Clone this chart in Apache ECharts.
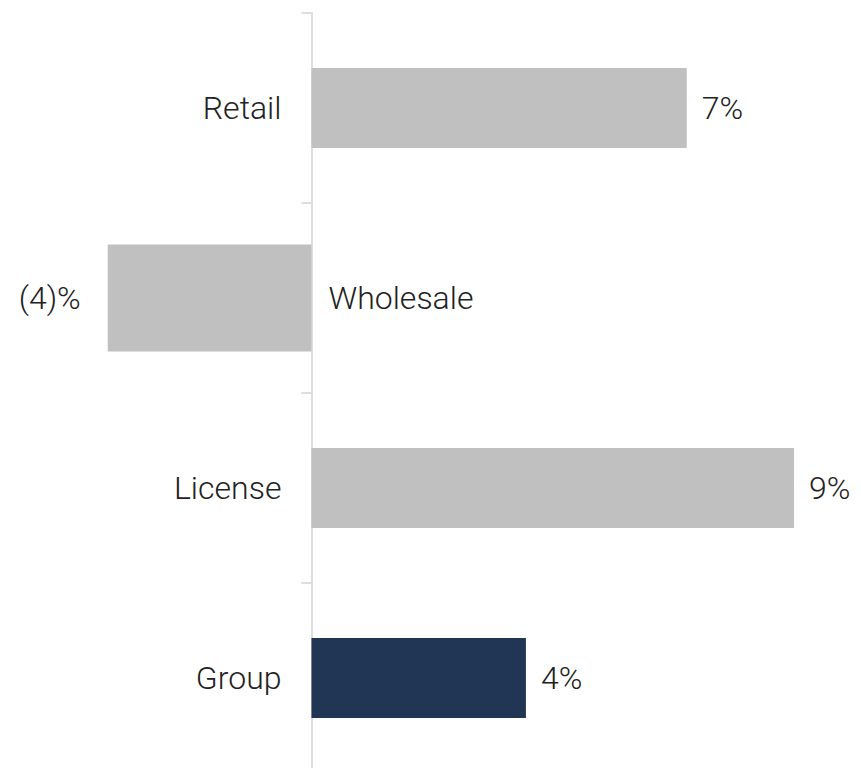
<!DOCTYPE html>
<html>
<head>
<meta charset="utf-8">
<script src="https://cdn.jsdelivr.net/npm/echarts@6/dist/echarts.min.js"></script>
<style>
  html, body { margin: 0; padding: 0; background: #fff; }
  #chart { width: 861px; height: 768px; }
</style>
</head>
<body>
<div id="chart"></div>
<script>
// data
var categories = ['Retail', 'Wholesale', 'License', 'Group'];
var growth = [7, -3.8, 9, 4];
var highlight = 'Group';

(function() {
  var ink = '#222222';
  var grey = '#c0c0c0';
  var navy = '#213654';
  var rule = '#dedede';
  var font = 'Roboto, "Liberation Sans", sans-serif';

  function pct(v) {
    return v < 0 ? '(' + Math.round(-v) + ')%' : Math.round(v) + '%';
  }

  var textStyle = { color: ink, fontSize: 32, fontWeight: 300, fontFamily: font };

  // negative bars are drawn a bit thicker in the source, so they go on their own axis
  var posData = growth.map(function(v, i) {
    if (v < 0) return '-';
    return { value: v, itemStyle: { color: categories[i] === highlight ? navy : grey } };
  });
  var negData = growth.map(function(v) { return v < 0 ? v : '-'; });

  var chart = echarts.init(document.getElementById('chart'), null, { renderer: 'svg' });
  chart.setOption({
    animation: false,
    grid: { left: 97, right: 67, top: 13, bottom: -5, outerBoundsMode: 'none', containLabel: false },
    xAxis: {
      type: 'value',
      min: -4,
      max: 9,
      show: false
    },
    yAxis: [{
      type: 'category',
      inverse: true,
      data: categories,
      axisLine: { onZero: true, lineStyle: { color: rule, width: 2 } },
      axisTick: { show: true, length: 10, lineStyle: { color: rule, width: 2 } },
      axisLabel: { show: false },
      splitLine: { show: false }
    }, {
      type: 'category',
      inverse: true,
      data: categories,
      show: false
    }],
    series: [{
      type: 'bar',
      yAxisIndex: 0,
      barWidth: 80,
      data: posData,
      label: Object.assign({
        show: true,
        position: 'right',
        distance: 15,
        formatter: function(p) { return pct(p.value); }
      }, textStyle)
    }, {
      type: 'bar',
      yAxisIndex: 1,
      barWidth: 107,
      data: negData,
      itemStyle: { color: grey },
      label: Object.assign({
        show: true,
        position: 'left',
        distance: 27,
        formatter: function(p) { return pct(p.value); }
      }, textStyle)
    }, {
      // category names, placed on the side opposite to the bar
      type: 'bar',
      yAxisIndex: 0,
      barWidth: 80,
      barGap: '-100%',
      silent: true,
      itemStyle: { color: 'rgba(0,0,0,0)' },
      data: growth.map(function(v) {
        return {
          value: v,
          label: { position: v < 0 ? 'right' : 'left', distance: v < 0 ? 17 : 30 }
        };
      }),
      label: Object.assign({
        show: true,
        formatter: function(p) { return categories[p.dataIndex]; }
      }, textStyle)
    }]
  });
  window.addEventListener('resize', function() { chart.resize(); });
})();
</script>
</body>
</html>
